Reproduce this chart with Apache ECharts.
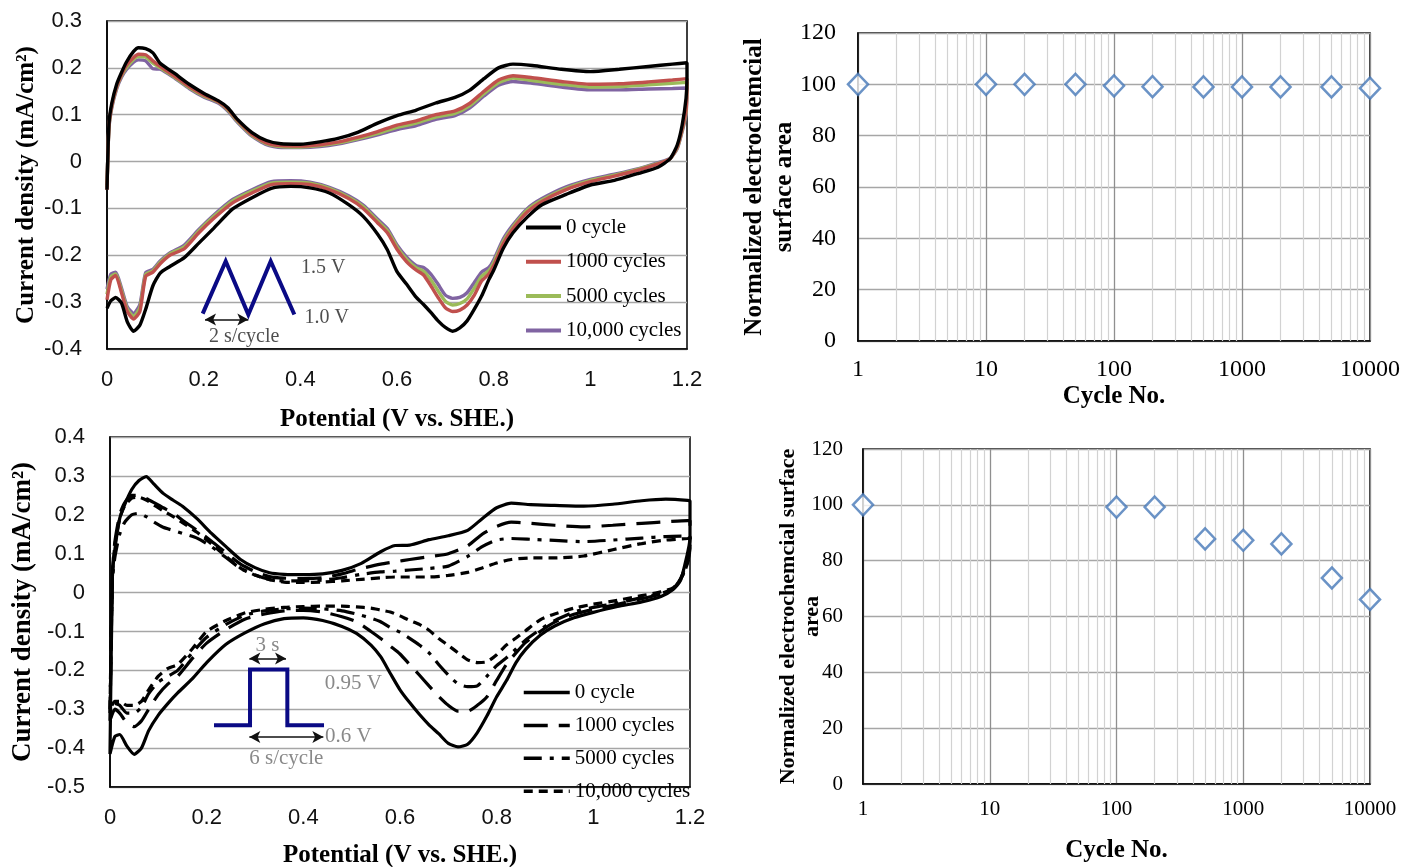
<!DOCTYPE html>
<html><head><meta charset="utf-8">
<script src="https://cdn.jsdelivr.net/npm/echarts@6/dist/echarts.min.js"></script>
<style>html,body{margin:0;padding:0;background:#fff}#c{width:1404px;height:867px}</style>
</head><body><div id="c"></div>
<script>
// ---------- Panel A (top-left): triangle-wave cycling, CV ----------
const tlPotUp = [0, 0.004, 0.01, 0.02, 0.03, 0.04, 0.055, 0.065, 0.08, 0.095, 0.11, 0.14, 0.17, 0.2, 0.23, 0.25, 0.27, 0.3, 0.33, 0.36, 0.4, 0.44, 0.48, 0.52, 0.56, 0.6, 0.64, 0.68, 0.72, 0.75, 0.78, 0.81, 0.84, 0.88, 0.94, 1.0, 1.06, 1.12, 1.17, 1.2];
const tlUp0 = [-0.06, 0.08, 0.125, 0.165, 0.19, 0.212, 0.235, 0.243, 0.241, 0.232, 0.21, 0.188, 0.165, 0.146, 0.13, 0.115, 0.09, 0.062, 0.045, 0.038, 0.037, 0.042, 0.05, 0.063, 0.082, 0.098, 0.11, 0.125, 0.137, 0.152, 0.177, 0.2, 0.208, 0.205, 0.197, 0.192, 0.197, 0.203, 0.208, 0.211];
const tlUp1000 = [-0.06, 0.075, 0.12, 0.16, 0.185, 0.205, 0.222, 0.229, 0.228, 0.215, 0.203, 0.182, 0.16, 0.142, 0.128, 0.112, 0.088, 0.058, 0.04, 0.034, 0.033, 0.036, 0.042, 0.052, 0.064, 0.078, 0.087, 0.1, 0.108, 0.124, 0.15, 0.174, 0.183, 0.179, 0.171, 0.165, 0.166, 0.17, 0.174, 0.177];
const tlUp5000 = [-0.055, 0.072, 0.118, 0.158, 0.183, 0.2, 0.218, 0.224, 0.223, 0.21, 0.2, 0.18, 0.158, 0.14, 0.127, 0.11, 0.086, 0.056, 0.038, 0.032, 0.031, 0.034, 0.04, 0.049, 0.06, 0.073, 0.082, 0.095, 0.103, 0.119, 0.145, 0.168, 0.178, 0.173, 0.165, 0.159, 0.16, 0.164, 0.167, 0.169];
const tlUp10000 = [-0.05, 0.07, 0.115, 0.155, 0.18, 0.196, 0.212, 0.217, 0.215, 0.198, 0.197, 0.178, 0.156, 0.138, 0.125, 0.108, 0.084, 0.054, 0.036, 0.03, 0.03, 0.032, 0.038, 0.047, 0.057, 0.068, 0.077, 0.09, 0.098, 0.114, 0.14, 0.163, 0.171, 0.167, 0.159, 0.153, 0.153, 0.155, 0.156, 0.157];

const tlPotDown = [1.2, 1.198, 1.19, 1.18, 1.165, 1.14, 1.1, 1.05, 1.0, 0.95, 0.9, 0.87, 0.84, 0.82, 0.8, 0.79, 0.775, 0.76, 0.745, 0.73, 0.715, 0.7, 0.685, 0.67, 0.655, 0.64, 0.62, 0.6, 0.58, 0.56, 0.53, 0.5, 0.46, 0.42, 0.38, 0.34, 0.3, 0.26, 0.22, 0.19, 0.16, 0.13, 0.11, 0.095, 0.08, 0.068, 0.055, 0.042, 0.03, 0.018, 0.008, 0];
const tlDown0 = [0.18, 0.135, 0.078, 0.036, 0.006, -0.012, -0.025, -0.04, -0.05, -0.07, -0.092, -0.118, -0.152, -0.185, -0.232, -0.252, -0.287, -0.315, -0.34, -0.355, -0.362, -0.354, -0.34, -0.322, -0.305, -0.29, -0.262, -0.235, -0.188, -0.155, -0.117, -0.092, -0.067, -0.056, -0.053, -0.057, -0.077, -0.101, -0.143, -0.174, -0.205, -0.224, -0.238, -0.265, -0.315, -0.349, -0.362, -0.342, -0.302, -0.29, -0.297, -0.313];
const tlDown1000 = [0.175, 0.11, 0.07, 0.032, 0.006, -0.005, -0.018, -0.031, -0.043, -0.06, -0.085, -0.107, -0.143, -0.175, -0.222, -0.24, -0.255, -0.285, -0.306, -0.317, -0.32, -0.312, -0.29, -0.265, -0.242, -0.232, -0.214, -0.187, -0.152, -0.131, -0.1, -0.079, -0.06, -0.049, -0.047, -0.049, -0.067, -0.088, -0.122, -0.152, -0.186, -0.2, -0.218, -0.236, -0.245, -0.32, -0.336, -0.32, -0.28, -0.243, -0.252, -0.295];
const tlDown5000 = [0.169, 0.105, 0.067, 0.03, 0.006, -0.004, -0.016, -0.029, -0.04, -0.057, -0.082, -0.103, -0.139, -0.17, -0.216, -0.233, -0.245, -0.27, -0.293, -0.303, -0.306, -0.298, -0.276, -0.252, -0.234, -0.227, -0.209, -0.182, -0.147, -0.127, -0.096, -0.076, -0.057, -0.046, -0.044, -0.046, -0.063, -0.084, -0.118, -0.148, -0.182, -0.197, -0.215, -0.233, -0.241, -0.312, -0.33, -0.315, -0.275, -0.24, -0.246, -0.283];
const tlDown10000 = [0.157, 0.1, 0.064, 0.028, 0.007, -0.002, -0.015, -0.027, -0.038, -0.054, -0.079, -0.1, -0.135, -0.165, -0.21, -0.226, -0.236, -0.258, -0.28, -0.29, -0.292, -0.285, -0.262, -0.24, -0.226, -0.222, -0.204, -0.178, -0.143, -0.123, -0.093, -0.073, -0.055, -0.044, -0.041, -0.043, -0.06, -0.081, -0.115, -0.145, -0.178, -0.195, -0.212, -0.23, -0.237, -0.305, -0.324, -0.31, -0.27, -0.236, -0.24, -0.272];

// inset: triangle potential program (data units of panel A)
const tlRampWave = [[0.198, -0.3244], [0.2456, -0.2127], [0.2924, -0.3265], [0.3387, -0.2127], [0.3876, -0.3265]];
const tlPeriodArrow = [[0.2028, -0.337], [0.2924, -0.337]];
const tlNotes = [
  { name: '1.5 V', value: [0.4476, -0.2269] },
  { name: '1.0 V', value: [0.4545, -0.3336] },
  { name: '2 s/cycle', value: [0.2838, -0.3728] }
];

// ---------- Panel C (bottom-left): square-wave cycling, CV ----------
const blPotUp = [0, 0.005, 0.01, 0.02, 0.03, 0.045, 0.06, 0.075, 0.09, 0.11, 0.13, 0.15, 0.18, 0.21, 0.24, 0.27, 0.3, 0.33, 0.36, 0.4, 0.44, 0.48, 0.52, 0.56, 0.59, 0.62, 0.66, 0.7, 0.74, 0.77, 0.8, 0.83, 0.87, 0.92, 0.98, 1.04, 1.1, 1.15, 1.195, 1.2];
const blUp0 = [-0.415, 0.04, 0.11, 0.19, 0.225, 0.265, 0.288, 0.298, 0.28, 0.255, 0.238, 0.222, 0.19, 0.152, 0.118, 0.085, 0.064, 0.051, 0.047, 0.046, 0.048, 0.057, 0.075, 0.105, 0.121, 0.122, 0.136, 0.146, 0.16, 0.19, 0.218, 0.23, 0.226, 0.224, 0.222, 0.227, 0.236, 0.24, 0.237, 0.235];
const blUp1000 = [-0.33, 0.05, 0.13, 0.2, 0.23, 0.25, 0.25, 0.242, 0.232, 0.218, 0.205, 0.186, 0.16, 0.132, 0.102, 0.073, 0.054, 0.041, 0.037, 0.036, 0.038, 0.048, 0.062, 0.073, 0.079, 0.085, 0.092, 0.1, 0.12, 0.15, 0.17, 0.181, 0.178, 0.173, 0.169, 0.173, 0.178, 0.182, 0.185, 0.185];
const blUp5000 = [-0.31, 0.03, 0.09, 0.15, 0.18, 0.2, 0.204, 0.195, 0.182, 0.168, 0.16, 0.152, 0.14, 0.118, 0.09, 0.062, 0.045, 0.034, 0.03, 0.03, 0.032, 0.038, 0.047, 0.053, 0.055, 0.058, 0.062, 0.068, 0.093, 0.118, 0.135, 0.139, 0.137, 0.134, 0.131, 0.135, 0.14, 0.144, 0.145, 0.145];
const blUp10000 = [-0.3, 0.045, 0.12, 0.19, 0.222, 0.243, 0.245, 0.238, 0.226, 0.21, 0.196, 0.18, 0.155, 0.125, 0.093, 0.063, 0.045, 0.033, 0.027, 0.026, 0.027, 0.03, 0.034, 0.038, 0.04, 0.04, 0.04, 0.044, 0.052, 0.063, 0.076, 0.085, 0.089, 0.089, 0.094, 0.11, 0.126, 0.135, 0.139, 0.14];

const blPotDown = [1.2, 1.198, 1.19, 1.18, 1.165, 1.14, 1.1, 1.05, 1.0, 0.96, 0.92, 0.89, 0.86, 0.84, 0.82, 0.8, 0.78, 0.76, 0.74, 0.72, 0.7, 0.68, 0.66, 0.64, 0.62, 0.6, 0.58, 0.56, 0.54, 0.51, 0.48, 0.44, 0.4, 0.36, 0.32, 0.28, 0.24, 0.2, 0.17, 0.14, 0.12, 0.1, 0.08, 0.065, 0.05, 0.035, 0.02, 0.01, 0];
const blDown0 = [0.143, 0.12, 0.075, 0.03, 0.008, -0.01, -0.024, -0.036, -0.051, -0.065, -0.086, -0.11, -0.146, -0.18, -0.227, -0.268, -0.317, -0.36, -0.39, -0.397, -0.388, -0.363, -0.34, -0.313, -0.283, -0.25, -0.208, -0.165, -0.135, -0.105, -0.087, -0.072, -0.065, -0.067, -0.08, -0.103, -0.133, -0.18, -0.222, -0.258, -0.285, -0.315, -0.355, -0.4, -0.416, -0.395, -0.365, -0.37, -0.415];
const blDown1000 = [0.14, 0.1, 0.065, 0.035, 0.01, -0.004, -0.016, -0.03, -0.043, -0.056, -0.076, -0.1, -0.128, -0.155, -0.185, -0.226, -0.268, -0.29, -0.305, -0.305, -0.29, -0.267, -0.24, -0.212, -0.185, -0.158, -0.138, -0.118, -0.1, -0.075, -0.062, -0.05, -0.046, -0.047, -0.055, -0.068, -0.095, -0.13, -0.17, -0.215, -0.235, -0.262, -0.3, -0.33, -0.345, -0.335, -0.31, -0.3, -0.33];
const blDown5000 = [0.13, 0.095, 0.06, 0.033, 0.01, -0.002, -0.013, -0.027, -0.038, -0.05, -0.072, -0.095, -0.122, -0.145, -0.168, -0.188, -0.215, -0.24, -0.242, -0.235, -0.212, -0.185, -0.155, -0.135, -0.118, -0.102, -0.09, -0.075, -0.066, -0.055, -0.047, -0.042, -0.04, -0.042, -0.047, -0.058, -0.082, -0.115, -0.155, -0.2, -0.215, -0.23, -0.26, -0.295, -0.31, -0.31, -0.29, -0.285, -0.31];
const blDown10000 = [0.13, 0.09, 0.058, 0.033, 0.012, 0.002, -0.008, -0.02, -0.03, -0.04, -0.055, -0.07, -0.098, -0.117, -0.135, -0.16, -0.178, -0.18, -0.173, -0.155, -0.136, -0.118, -0.097, -0.082, -0.072, -0.06, -0.05, -0.045, -0.04, -0.037, -0.035, -0.035, -0.036, -0.038, -0.043, -0.052, -0.072, -0.1, -0.145, -0.185, -0.195, -0.215, -0.25, -0.28, -0.29, -0.29, -0.28, -0.28, -0.3];

// inset: square potential program (data units of panel C)
const blStepWave = [[0.2152, -0.3411], [0.2897, -0.3411], [0.2897, -0.198], [0.3669, -0.198], [0.3669, -0.3411], [0.4428, -0.3411]];
const blHoldArrow = [[0.2883, -0.1697], [0.3642, -0.1697]];
const blPeriodArrow = [[0.2883, -0.3712], [0.4414, -0.3712]];
const blNotes = [
  { name: '3 s', value: [0.3259, -0.1355] },
  { name: '0.95 V', value: [0.5035, -0.234] },
  { name: '0.6 V', value: [0.4931, -0.3712] },
  { name: '6 s/cycle', value: [0.3648, -0.4267] }
];

// ---------- Panels B and D: normalized ECSA vs cycle number ----------
const cyclesB = [1, 10, 20, 50, 100, 200, 500, 1000, 2000, 5000, 10000];
const ecsaB = [100, 100, 100, 100, 99.4, 99.1, 99, 99, 99, 99, 98.5];
const cyclesD = [1, 100, 200, 500, 1000, 2000, 5000, 10000];
const ecsaD = [100, 99.2, 99.2, 87.8, 87.3, 86, 73.8, 66.1];
const logMinorTicks = [2, 3, 4, 5, 6, 7, 8, 9, 20, 30, 40, 50, 60, 70, 80, 90, 200, 300, 400, 500, 600, 700, 800, 900, 2000, 3000, 4000, 5000, 6000, 7000, 8000, 9000];

const legendNames = ['0 cycle', '1000 cycles', '5000 cycles', '10,000 cycles'];

// ---------- helpers ----------
const serif = 'Liberation Serif', sans = 'Liberation Sans';
function loop(upX, up, dnX, dn) {
  return upX.map((x, i) => [x, up[i]]).concat(dnX.map((x, i) => [x, dn[i]]));
}
function cv(name, gi, data, color, type, width, z) {
  return {
    name, type: 'line', xAxisIndex: gi, yAxisIndex: gi, data,
    symbol: 'none', showSymbol: false, smooth: 0.2, silent: true, z: z,
    lineStyle: { color, width: width, type: type, cap: 'butt' },
    itemStyle: { color }
  };
}
function potX(gi, margin, gap) {
  return {
    type: 'value', gridIndex: gi, min: 0, max: 1.2, interval: 0.2,
    name: 'Potential (V vs. SHE.)', nameLocation: 'middle', nameGap: gap, nameMoveOverlap: false,
    nameTextStyle: { fontFamily: serif, fontWeight: 'bold', fontSize: 25, color: '#000', lineHeight: 28 },
    axisLine: { onZero: false, lineStyle: { color: '#000', width: 1.5 } },
    axisTick: { show: false }, splitLine: { show: false },
    axisLabel: { fontFamily: sans, fontSize: 22, color: '#111', margin }
  };
}
function curY(gi, min, max, gap, fs) {
  return {
    type: 'value', gridIndex: gi, min, max, interval: 0.1,
    name: 'Current density (mA/cm²)', nameLocation: 'middle', nameGap: gap, nameRotate: 90, nameMoveOverlap: false,
    nameTextStyle: { fontFamily: serif, fontWeight: 'bold', fontSize: fs, color: '#000', lineHeight: fs + 3 },
    axisLine: { onZero: false, lineStyle: { color: '#000', width: 1.5 } },
    axisTick: { show: false },
    splitLine: { show: true, lineStyle: { color: '#a6a6a6', width: 1.3 } },
    axisLabel: { fontFamily: sans, fontSize: 22, color: '#111', margin: 25 }
  };
}
function cycX(gi, fs, margin, gap) {
  return {
    type: 'log', logBase: 10, gridIndex: gi, min: 1, max: 10000,
    name: 'Cycle No.', nameLocation: 'middle', nameGap: gap, nameMoveOverlap: false,
    nameTextStyle: { fontFamily: serif, fontWeight: 'bold', fontSize: 25, color: '#000', lineHeight: 28 },
    axisLine: { onZero: false, lineStyle: { color: '#000', width: 1.5 } },
    axisTick: { show: false },
    splitLine: { show: true, lineStyle: { color: '#8f8f8f', width: 1.3 } },
    axisLabel: { fontFamily: serif, fontSize: fs, color: '#000', margin, formatter: v => String(Math.round(v)) }
  };
}
function ecsaY(gi, name, fs, lh, gap, lfs, lmargin) {
  return {
    type: 'value', gridIndex: gi, min: 0, max: 120, interval: 20,
    name, nameLocation: 'middle', nameGap: gap, nameRotate: 90, nameMoveOverlap: false,
    nameTextStyle: { fontFamily: serif, fontWeight: 'bold', fontSize: fs, color: '#000', lineHeight: lh },
    axisLine: { onZero: false, lineStyle: { color: '#000', width: 1.5 } },
    axisTick: { show: false },
    splitLine: { show: true, lineStyle: { color: '#a6a6a6', width: 1.3 } },
    axisLabel: { fontFamily: serif, fontSize: lfs, color: '#000', margin: lmargin }
  };
}
function ecsaSeries(gi, xs, ys) {
  return {
    type: 'scatter', xAxisIndex: gi, yAxisIndex: gi, silent: true, z: 4,
    data: xs.map((x, i) => [x, ys[i]]),
    symbol: 'diamond', symbolSize: [20, 21],
    itemStyle: { color: '#ffffff', borderColor: '#4678b8', borderWidth: 2.5 },
    markLine: {
      silent: true, z: 1, animation: false, symbol: ['none', 'none'], label: { show: false },
      lineStyle: { color: '#d2d2d2', width: 1.2, type: 'solid' },
      data: logMinorTicks.map(v => ({ xAxis: v }))
    }
  };
}
function arrowMark(pts) {
  return [[{ coord: pts[0] }, { coord: pts[1] }]];
}
function inset(gi, pts, arrows, color) {
  return {
    type: 'line', xAxisIndex: gi, yAxisIndex: gi, data: pts, symbol: 'none', silent: true, z: 5,
    lineStyle: { color, width: 4, join: 'miter' },
    markLine: {
      silent: true, animation: false, symbol: ['arrow', 'arrow'], symbolSize: [9, 11],
      label: { show: false }, lineStyle: { color: '#111', width: 1.6, type: 'solid' },
      data: arrows.flatMap(a => arrowMark(a))
    }
  };
}
function notes(gi, data, color, fs) {
  return {
    type: 'scatter', xAxisIndex: gi, yAxisIndex: gi, data, symbolSize: 0, silent: true, z: 6,
    label: { show: true, position: 'inside', formatter: '{b}', fontFamily: serif, fontSize: fs, color }
  };
}

const tlColors = ['#000000', '#c0504d', '#9bbb59', '#8064a2'];
const tlLoops = [
  loop(tlPotUp, tlUp0, tlPotDown, tlDown0),
  loop(tlPotUp, tlUp1000, tlPotDown, tlDown1000),
  loop(tlPotUp, tlUp5000, tlPotDown, tlDown5000),
  loop(tlPotUp, tlUp10000, tlPotDown, tlDown10000)
];
const blLoops = [
  loop(blPotUp, blUp0, blPotDown, blDown0),
  loop(blPotUp, blUp1000, blPotDown, blDown1000),
  loop(blPotUp, blUp5000, blPotDown, blDown5000),
  loop(blPotUp, blUp10000, blPotDown, blDown10000)
];
const blDash = ['solid', [24, 11], [18, 8, 4, 8], [9, 6]];

const series = [];
[3, 2, 1, 0].forEach(i => series.push(cv('a|' + legendNames[i], 0, tlLoops[i], tlColors[i], 'solid', 3.4, 3 + (3 - i))));
[3, 2, 1, 0].forEach(i => series.push(cv('c|' + legendNames[i], 2, blLoops[i], '#000', blDash[i], 3.2, 3)));
series.push(inset(0, tlRampWave, [tlPeriodArrow], '#0a0a85'));
series.push(notes(0, tlNotes, '#222', 20));
series.push(inset(2, blStepWave, [blHoldArrow, blPeriodArrow], '#0a0a85'));
series.push(notes(2, blNotes, '#6b6b6b', 21));
series.push(ecsaSeries(1, cyclesB, ecsaB));
series.push(ecsaSeries(3, cyclesD, ecsaD));

const gridBase = { show: true, borderColor: '#000', borderWidth: 1.5, backgroundColor: 'transparent', containLabel: false, outerBoundsMode: 'none' };
const legendText = { fontFamily: serif, fontSize: 21, color: '#000', lineHeight: 20 };
const option = {
  animation: false,
  backgroundColor: '#ffffff',
  grid: [
    Object.assign({ left: 107, top: 21, width: 580, height: 328 }, gridBase),
    Object.assign({ left: 858, top: 33, width: 512, height: 308 }, gridBase),
    Object.assign({ left: 110, top: 437, width: 580, height: 350 }, gridBase),
    Object.assign({ left: 863, top: 449, width: 507, height: 335 }, gridBase)
  ],
  xAxis: [potX(0, 20, 57), cycX(1, 24, 17, 42), potX(2, 20, 55), cycX(3, 21, 15, 53)],
  yAxis: [
    curY(0, -0.4, 0.3, 66, 25),
    ecsaY(1, 'Normalized electrochemcial\nsurface area', 25, 30, 58, 24, 22),
    curY(2, -0.5, 0.4, 72, 27),
    ecsaY(3, 'Normalized electrochemcial surface\narea', 22, 24, 39, 21, 20)
  ],
  legend: [
    {
      orient: 'vertical', left: 524, top: 217, padding: 0, itemWidth: 35, itemHeight: 14, itemGap: 13.3,
      selectedMode: false, textStyle: legendText, lineStyle: { width: 4 }, itemStyle: { opacity: 0 },
      data: legendNames.map(n => 'a|' + n), formatter: n => n.split('|')[1]
    },
    {
      orient: 'vertical', left: 522, top: 682, padding: 0, itemWidth: 46, itemHeight: 14, itemGap: 11.9,
      selectedMode: false, textStyle: legendText, lineStyle: { width: 3.5 }, itemStyle: { opacity: 0 },
      data: legendNames.map(n => 'c|' + n), formatter: n => n.split('|')[1]
    }
  ],
  series
};
const chart = echarts.init(document.getElementById('c'));
chart.setOption(option);
</script>
</body></html>
